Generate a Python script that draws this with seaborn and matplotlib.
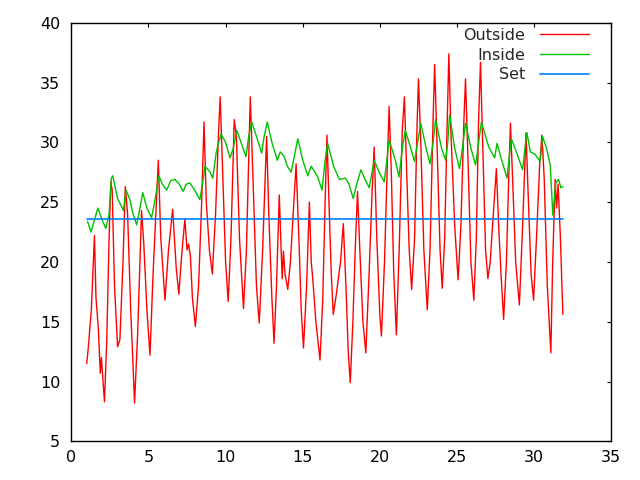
import seaborn as sns
import pandas as pd
import matplotlib
matplotlib.use("Agg")
import matplotlib.pyplot as plt

# outside temperature (day, deg)
outside_day = [1.0, 1.1, 1.3, 1.5, 1.6, 1.75, 1.88, 1.95, 2.15, 2.3, 2.45, 2.56, 2.65, 2.8, 3.0,
               3.15, 3.35, 3.5, 3.65, 3.85, 4.1, 4.3, 4.45, 4.55, 4.7, 4.9, 5.1, 5.3, 5.5, 5.64,
               5.8, 6.07, 6.3, 6.57, 6.8, 6.97, 7.15, 7.36, 7.5, 7.6, 7.72, 7.85, 8.04, 8.25, 8.45,
               8.6, 8.75, 8.95, 9.14, 9.35, 9.55, 9.65, 9.8, 10.0, 10.17, 10.35, 10.56, 10.7, 10.9,
               11.16, 11.35, 11.6, 11.75, 12.0, 12.18, 12.4, 12.66, 12.8, 13.0, 13.14, 13.3, 13.48,
               13.6, 13.67, 13.75, 13.85, 14.03, 14.2, 14.4, 14.57, 14.75, 14.9, 15.05, 15.25, 15.43,
               15.55, 15.65, 15.85, 16.12, 16.3, 16.45, 16.57, 16.7, 16.85, 16.98, 17.2, 17.45, 17.63,
               17.8, 17.95, 18.08, 18.25, 18.4, 18.55, 18.7, 18.9, 19.09, 19.3, 19.5, 19.63, 19.8,
               20.0, 20.1, 20.3, 20.5, 20.6, 20.75, 20.9, 21.07, 21.25, 21.45, 21.59, 21.75, 21.9,
               22.06, 22.25, 22.4, 22.5, 22.65, 22.85, 23.07, 23.25, 23.45, 23.55, 23.7, 23.9, 24.04,
               24.2, 24.35, 24.47, 24.6, 24.85, 25.07, 25.25, 25.45, 25.55, 25.7, 25.9, 26.09, 26.25,
               26.4, 26.52, 26.7, 26.85, 27.0, 27.15, 27.3, 27.55, 27.7, 27.85, 28.02, 28.2, 28.35,
               28.46, 28.6, 28.8, 29.04, 29.25, 29.47, 29.6, 29.8, 29.96, 30.15, 30.35, 30.5, 30.65,
               30.85, 31.08, 31.2, 31.36, 31.45, 31.55, 31.7, 31.86]
outside_temp = [11.5, 12.8, 16.0, 22.2, 17.0, 14.5, 10.7, 12.0, 8.3, 13.5, 22.0, 26.7, 26.0, 18.0, 12.9,
                13.5, 20.0, 26.3, 24.0, 16.0, 8.2, 14.0, 20.0, 24.3, 21.5, 16.0, 12.2, 19.0, 24.5, 28.5,
                22.0, 16.8, 21.0, 24.4, 19.5, 17.3, 20.5, 23.6, 21.0, 21.5, 20.5, 17.0, 14.6, 18.0, 25.0,
                31.7, 25.0, 21.0, 19.0, 24.0, 31.0, 33.8, 28.0, 20.0, 16.7, 22.0, 31.9, 30.5, 22.0,
                16.1, 21.0, 33.8, 28.0, 18.0, 14.9, 21.0, 30.5, 24.0, 17.0, 13.2, 18.0, 25.6,
                21.0, 18.6, 20.9, 19.0, 17.7, 20.0, 24.5, 28.2, 22.0, 16.0, 12.8, 18.0, 25.0,
                20.0, 18.6, 15.0, 11.8, 17.0, 25.0, 30.6, 25.0, 19.0, 15.6, 17.5, 20.0, 23.2,
                18.0, 12.5, 9.9, 15.0, 21.0, 25.9, 21.0, 15.0, 12.4, 19.0, 26.0, 29.6, 22.0,
                15.5, 13.8, 20.0, 29.0, 33.0, 27.0, 19.0, 13.9, 21.0, 31.0, 33.8, 27.0, 21.0,
                17.7, 22.0, 31.0, 35.3, 30.0, 21.0, 16.0, 21.0, 32.0, 36.5, 30.0, 21.0, 17.8,
                22.0, 31.0, 37.4, 31.0, 23.0, 18.5, 23.0, 32.0, 35.3, 29.0, 20.0, 16.8, 22.0,
                32.0, 36.7, 28.0, 21.0, 18.6, 20.0, 23.0, 27.8, 23.0, 19.0, 15.2, 20.0, 27.0,
                31.6, 27.0, 20.0, 16.4, 23.0, 30.8, 26.0, 19.0, 16.8, 22.0, 28.0, 30.6, 27.0,
                18.0, 12.4, 20.0, 26.9, 24.5, 26.5, 22.0, 15.6]

# inside temperature
inside_day = [1.05, 1.28, 1.5, 1.72, 2.0, 2.24, 2.45, 2.6, 2.69, 3.0, 3.38, 3.55, 3.8, 4.0, 4.24,
              4.45, 4.63, 4.9, 5.2, 5.4, 5.68, 5.9, 6.18, 6.45, 6.72, 7.0, 7.25, 7.45, 7.68, 8.0,
              8.33, 8.5, 8.67, 9.0, 9.17, 9.4, 9.7, 10.0, 10.29, 10.5, 10.72, 11.0, 11.32, 11.5,
              11.69, 12.0, 12.34, 12.5, 12.7, 13.0, 13.35, 13.54, 13.8, 14.0, 14.25, 14.45, 14.68,
              15.0, 15.33, 15.54, 15.8, 16.0, 16.25, 16.45, 16.62, 17.0, 17.37, 17.76, 18.0, 18.27,
              18.5, 18.77, 19.0, 19.31, 19.63, 19.95, 20.28, 20.45, 20.6, 21.0, 21.24, 21.45, 21.65,
              22.0, 22.24, 22.45, 22.65, 23.0, 23.25, 23.45, 23.61, 24.0, 24.26, 24.4, 24.52, 24.85,
              25.16, 25.35, 25.55, 25.9, 26.2, 26.4, 26.58, 26.85, 27.06, 27.44, 27.59, 27.9, 28.24,
              28.4, 28.52, 28.9, 29.25, 29.4, 29.53, 29.75, 30.05, 30.39, 30.54, 30.8, 31.04, 31.21,
              31.4, 31.58, 31.73, 31.86]
inside_temp = [23.4, 22.5, 23.5, 24.5, 23.5, 22.8, 24.0, 27.0, 27.2, 25.3, 24.3, 26.0, 25.2, 24.0, 23.1,
               24.5, 25.8, 24.5, 23.7, 25.0, 27.2, 26.5, 26.0, 26.8, 26.9, 26.5, 25.9, 26.5, 26.6, 26.0,
               25.2, 26.5, 28.0, 27.5, 27.0, 29.2, 30.7, 30.0, 28.7, 29.5, 31.0, 30.0, 28.8, 30.5,
               31.7, 30.5, 29.1, 30.5, 31.7, 30.0, 28.5, 29.2, 28.8, 28.0, 27.5, 28.8, 30.3,
               28.5, 27.2, 28.0, 27.5, 27.0, 26.0, 28.5, 29.9, 28.0, 26.9, 27.0, 26.5, 25.3,
               26.5, 27.7, 27.0, 26.2, 28.5, 27.5, 26.7, 28.5, 30.2, 28.5, 27.1, 29.5, 31.0,
               29.5, 28.4, 30.0, 31.6, 29.5, 28.2, 30.0, 31.9, 29.5, 28.5, 30.0, 32.3, 29.5,
               27.8, 29.5, 31.6, 29.5, 28.1, 30.0, 31.7, 30.5, 29.6, 28.7, 29.9, 28.5, 27.0,
               29.0, 30.3, 29.0, 27.7, 29.5, 30.8, 29.2, 29.0, 28.4, 30.5, 29.5, 28.1, 23.9,
               26.6, 26.9, 26.2, 26.3]

# thermostat set point
set_day = [1.05, 31.86]
set_temp = [23.55, 23.55]

df_out = pd.DataFrame({"day": outside_day, "temp": outside_temp})
df_in = pd.DataFrame({"day": inside_day, "temp": inside_temp})
df_set = pd.DataFrame({"day": set_day, "temp": set_temp})

sns.set_style("white")
plt.rcParams["font.family"] = ["DejaVu Sans"]

fig = plt.figure(figsize=(6.4, 4.8), dpi=100)
ax = fig.add_axes([0.1114, 0.0806, 0.8438, 0.8721])

sns.lineplot(data=df_out, x="day", y="temp", color="#ff0000", lw=1.0, label="Outside", ax=ax, sort=False)
sns.lineplot(data=df_in, x="day", y="temp", color="#00c000", lw=1.0, label="Inside", ax=ax, sort=False)
sns.lineplot(data=df_set, x="day", y="temp", color="#0080ff", lw=1.2, label="Set", ax=ax, sort=False)

ax.set_xlim(0, 35)
ax.set_ylim(5, 40)
ax.set_xticks(range(0, 36, 5))
ax.set_yticks(range(5, 41, 5))
ax.set_xlabel("")
ax.set_ylabel("")
ax.tick_params(direction="in", length=3, width=0.8, top=True, right=True,
               labelsize=11.5, colors="black", pad=6)
ax.tick_params(axis="y", pad=8)
for s in ax.spines.values():
    s.set_color("black")
    s.set_linewidth(1.0)

ax.legend(loc="upper right", bbox_to_anchor=(0.974, 1.007), frameon=False, markerfirst=False,
          fontsize=11.5, handlelength=3.1, handletextpad=0.9, labelspacing=0.3, borderpad=0)

fig.savefig("out.png", dpi=100)
